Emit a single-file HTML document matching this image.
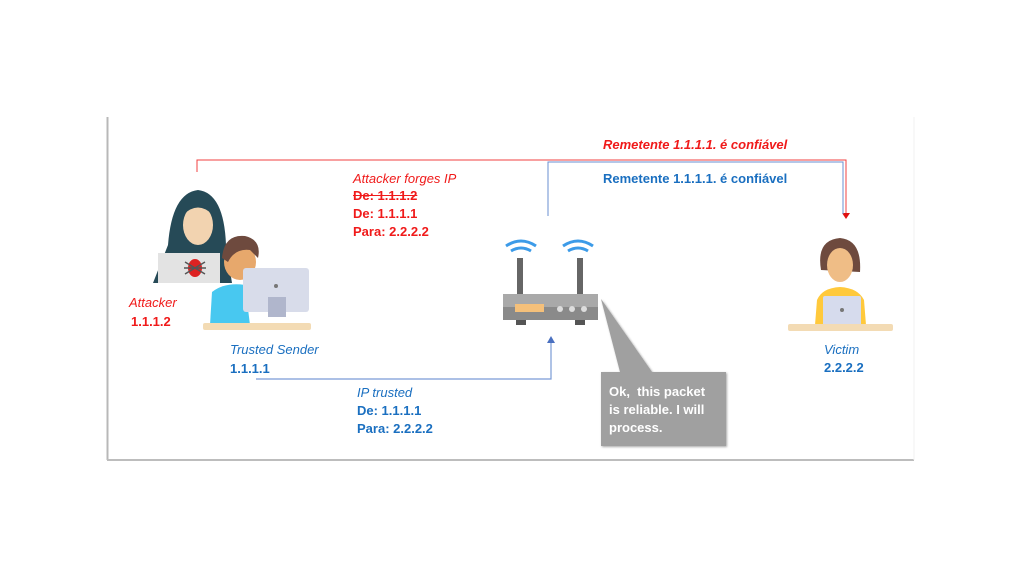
<!DOCTYPE html>
<html><head><meta charset="utf-8"><style>
body{margin:0;width:1024px;height:576px;background:#fff;overflow:hidden;position:relative;font-family:"Liberation Sans",sans-serif}
.t{position:absolute;font-size:13px;line-height:17px;white-space:nowrap}
.r{color:#f01a1a}.b{color:#1a6fc0}.i{font-style:italic}.bd{font-weight:bold}
</style></head><body>
<svg width="1024" height="576" style="position:absolute;left:0;top:0">
<defs><filter id="sh"><feDropShadow dx="1" dy="1" stdDeviation="1" flood-color="#000" flood-opacity=".35"/></filter></defs>
<line x1="107.5" y1="117" x2="107.5" y2="460" stroke="#b8b8b8" stroke-width="2"/>
<line x1="107" y1="460" x2="914" y2="460" stroke="#bdbdbd" stroke-width="2"/>
<line x1="914" y1="117" x2="914" y2="460" stroke="#f2f2f2" stroke-width="1"/>
<polyline points="197,172 197,160 846,160 846,214" fill="none" stroke="#f04040" stroke-width="1"/>
<polygon points="842,213 850,213 846,219" fill="#e01010"/>
<polyline points="548,216 548,162 843,162 843,214" fill="none" stroke="#6a8fd0" stroke-width="1"/>
<polyline points="256,379 551,379 551,340" fill="none" stroke="#7a9bd6" stroke-width="1.2"/>
<polygon points="547,343 555,343 551,336" fill="#4a70c0"/>
<!-- attacker -->
<path d="M153,283 L168,245 Q172,193 198,190 Q224,193 226,245 L232,283Z" fill="#264a57"/>
<ellipse cx="198" cy="225" rx="15" ry="20" fill="#f2d3b0"/>
<path d="M183,215 Q198,200 213,215 L213,212 Q198,192 183,212Z" fill="#264a57"/>
<rect x="158" y="253" width="62" height="30" fill="#e3e3e3"/>
<ellipse cx="195" cy="268" rx="7" ry="9" fill="#d22"/>
<path d="M185,262 l20,12 M185,274 l20,-12 M184,268 h22" stroke="#555" stroke-width="1.5"/>
<!-- trusted sender -->
<path d="M210,325 L212,292 Q225,282 245,285 L250,325Z" fill="#48c8f0"/>
<ellipse cx="240" cy="262" rx="16" ry="18" fill="#e7a86c"/>
<path d="M222,258 Q224,234 245,236 Q262,240 258,258 L250,250 Q235,248 228,262Z" fill="#6e4a3e"/>
<rect x="243" y="268" width="66" height="44" rx="3" fill="#d8dcea"/>
<rect x="268" y="297" width="18" height="20" fill="#b0b6cc"/>
<circle cx="276" cy="286" r="2" fill="#777"/>
<rect x="203" y="323" width="108" height="7" rx="2" fill="#f3dbb4"/>
<!-- router -->
<g fill="none" stroke="#3c9be8" stroke-width="3">
<path d="M506,246 Q521,236 536,246"/><path d="M511,251 Q521,245 531,251"/>
<path d="M563,246 Q578,236 593,246"/><path d="M568,251 Q578,245 588,251"/></g>
<rect x="517" y="258" width="6" height="36" fill="#666"/><rect x="577" y="258" width="6" height="36" fill="#666"/>
<rect x="503" y="294" width="95" height="26" fill="#a9a9a9"/>
<rect x="503" y="307" width="95" height="13" fill="#8a8a8a"/>
<rect x="515" y="304" width="29" height="8" fill="#f5c07a"/>
<circle cx="560" cy="309" r="3" fill="#ddd"/><circle cx="572" cy="309" r="3" fill="#ddd"/><circle cx="584" cy="309" r="3" fill="#ddd"/>
<rect x="516" y="320" width="10" height="5" fill="#555"/><rect x="575" y="320" width="10" height="5" fill="#555"/>
<!-- callout -->
<g filter="url(#sh)"><polygon points="601,299 652,372 726,372 726,446 601,446 601,372 620,372" fill="#a0a0a0"/>
<polygon points="601,299 652,372 640,372" fill="#a0a0a0"/></g>
<!-- victim -->
<path d="M821,270 Q816,240 840,238 Q862,240 860,272 Z" fill="#6e4a3e"/>
<ellipse cx="840" cy="265" rx="13" ry="17" fill="#efbd86"/>
<path d="M815,325 L817,300 Q822,288 840,287 Q858,288 864,300 L866,325Z" fill="#ffc93c"/>
<rect x="823" y="296" width="38" height="30" rx="2" fill="#d6dbed"/>
<circle cx="842" cy="310" r="2" fill="#777"/>
<rect x="788" y="324" width="105" height="7" rx="2" fill="#f3dbb4"/>
</svg>
<div class="t r bd i" style="left:603px;top:136px">Remetente 1.1.1.1. é confiável</div>
<div class="t b bd" style="left:603px;top:170px">Remetente 1.1.1.1. é confiável</div>
<div class="t r i" style="left:353px;top:170px">Attacker forges IP</div>
<div class="t r bd" style="left:353px;top:187px;text-decoration:line-through">De: 1.1.1.2</div>
<div class="t r bd" style="left:353px;top:205px">De: 1.1.1.1</div>
<div class="t r bd" style="left:353px;top:223px">Para: 2.2.2.2</div>
<div class="t r i" style="left:129px;top:294px">Attacker</div>
<div class="t r bd" style="left:131px;top:313px">1.1.1.2</div>
<div class="t b i" style="left:230px;top:341px">Trusted Sender</div>
<div class="t b bd" style="left:230px;top:360px">1.1.1.1</div>
<div class="t b i" style="left:357px;top:384px">IP trusted</div>
<div class="t b bd" style="left:357px;top:402px">De: 1.1.1.1</div>
<div class="t b bd" style="left:357px;top:420px">Para: 2.2.2.2</div>
<div class="t b i" style="left:824px;top:341px">Victim</div>
<div class="t b bd" style="left:824px;top:359px">2.2.2.2</div>
<div class="t bd" style="left:609px;top:383px;color:#fff;line-height:18px">Ok, &nbsp;this packet<br>is reliable. I will<br>process.</div>
</body></html>
